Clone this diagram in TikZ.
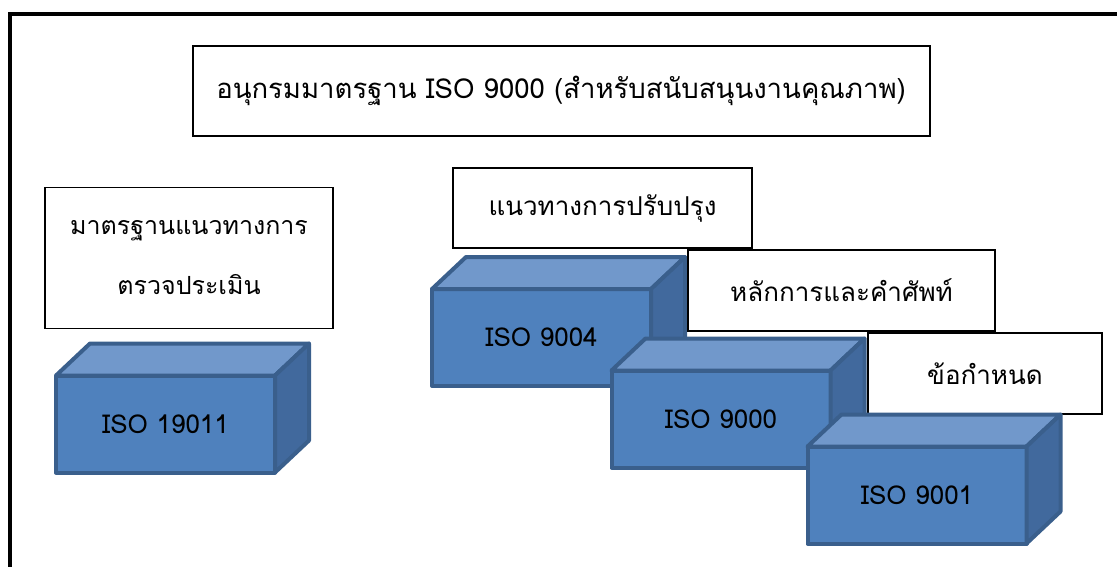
\documentclass[tikz,border=0pt]{standalone}
\usepackage{fontspec}
\setmainfont[Script=Thai]{Loma}
\usepackage{tikz}
\newcommand{\cubeDX}[0]{34}
\newcommand{\cubeDY}[0]{-32}
\newcommand{\labelSize}[0]{\fontsize{26}{30}\selectfont}
\newcommand{\titleSize}[0]{\fontsize{27.5}{32}\selectfont}
\newcommand{\auditSize}[0]{\fontsize{25}{60}\selectfont}
\newcommand{\isoCube}[3]{%
  \node[cube front] (#1) at (#2) {#3};
  \draw[cube top] (#1.north west) -- ++(\cubeDX,\cubeDY) -- ([shift={(\cubeDX,\cubeDY)}]#1.north east) -- (#1.north east) -- cycle;
  \draw[cube side] (#1.north east) -- ++(\cubeDX,\cubeDY) -- ([shift={(\cubeDX,\cubeDY)}]#1.south east) -- (#1.south east) -- cycle;
}
\definecolor{cubeblue}{HTML}{4F81BD}
\definecolor{cubelight}{HTML}{7198CB}
\definecolor{cubedark}{HTML}{41699D}
\definecolor{cubeline}{HTML}{3A5F8C}

\begin{document}
\begin{tikzpicture}[x=1pt, y=-1pt]
  \tikzset{
    cube front/.style={fill=cubeblue, draw=cubeline, line width=4pt, line join=round,
      minimum width=219pt, minimum height=97pt, inner sep=0pt, outer sep=0pt, font=\labelSize},
    cube top/.style={fill=cubelight, draw=cubeline, line width=4pt, line join=round},
    cube side/.style={fill=cubedark, draw=cubeline, line width=4pt, line join=round},
    label box/.style={fill=white, draw=black, line width=1.5pt, inner sep=0pt, outer sep=0pt,
      align=center, font=\labelSize}
  }
  \useasboundingbox (0,0) rectangle (1117,566);
  \begin{scope}
    \clip (0,0) rectangle (1117,566);
    \draw[line width=4.5pt, line join=miter] (10,580) -- (10,14) -- (1130,14);
  \end{scope}
  % title
  \node[label box, line width=2pt, minimum width=737pt, minimum height=90pt, font=\titleSize]
    (series) at (561,90.5) {อนุกรมมาตรฐาน ISO 9000 (สำหรับสนับสนุนงานคุณภาพ)};
  % audit
  \node[label box, minimum width=288pt, minimum height=141pt, font=\auditSize]
    (audit) at (189,258) {มาตรฐานแนวทางการ\\ตรวจประเมิน};
  \isoCube{iso19011}{165.5,424}{ISO 19011}
  % improvement
  \node[label box, minimum width=299pt, minimum height=80pt] (improve) at (602.5,208) {แนวทางการปรับปรุง};
  \isoCube{iso9004}{541.5,337.5}{ISO 9004}
  % fundamentals
  \node[label box, minimum width=307pt, minimum height=81pt] (basics) at (841.5,290.5) {หลักการและคำศัพท์};
  \isoCube{iso9000}{721,419}{ISO 9000}
  % requirements
  \node[label box, minimum width=234pt, minimum height=81pt] (require) at (985,373.5) {ข้อกำหนด};
  \isoCube{iso9001}{917,495}{ISO 9001}
\end{tikzpicture}
\end{document}
